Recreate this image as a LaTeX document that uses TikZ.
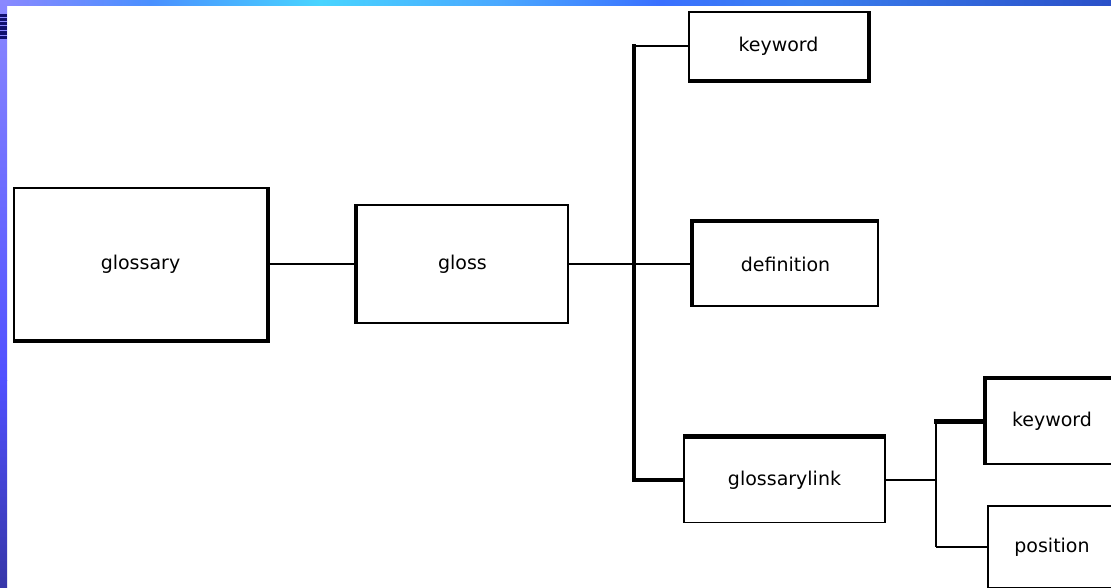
\documentclass[tikz,border=0pt]{standalone}
\usepackage{fontspec}
\setmainfont{DejaVu Sans}
\definecolor{tbA}{HTML}{8A88FF}
\definecolor{tbB}{HTML}{4A90FF}
\definecolor{tbC}{HTML}{48D4FF}
\definecolor{tbD}{HTML}{4AA8FF}
\definecolor{tbE}{HTML}{3A70FF}
\definecolor{tbF}{HTML}{3A80F0}
\definecolor{tbG}{HTML}{2A50C8}
\definecolor{lbA}{HTML}{8A88FF}
\definecolor{lbB}{HTML}{5050FF}
\definecolor{lbC}{HTML}{3636A8}
\definecolor{stripe}{HTML}{10106E}
\begin{document}
\begin{tikzpicture}[x=1pt,y=-1pt,
  box/.style={draw, line width=1.6pt, rectangle, inner sep=0pt, font=\fontsize{19}{23}\selectfont},
  thinline/.style={line width=1.6pt},
  heavyside/.style={line width=4.5pt, line cap=butt, line join=miter},
  heavy/.style={line width=4.5pt, line cap=rect}]
\useasboundingbox (0,0) rectangle (1111,588);
\clip (0,0) rectangle (1111,588);
\fill[white] (0,0) rectangle (1111,588);
% slide frame
\shade[left color=tbA, right color=tbB] (0,0) rectangle (150,6);
\shade[left color=tbB, right color=tbC] (150,0) rectangle (320,6);
\shade[left color=tbC, right color=tbD] (320,0) rectangle (500,6);
\shade[left color=tbD, right color=tbE] (500,0) rectangle (660,6);
\shade[left color=tbE, right color=tbF] (660,0) rectangle (800,6);
\shade[left color=tbF, right color=tbG] (800,0) rectangle (1111,6);
\shade[top color=lbA, bottom color=lbB] (0,0) rectangle (7,380);
\shade[top color=lbB, bottom color=lbC] (0,380) rectangle (7,588);
\fill[stripe] (0,14) rectangle (7,39);
\foreach \yy in {17.8,21.8,25.9,30.4,35.0}
  \draw[lbA, line width=0.9pt] (0,\yy) -- (7,\yy);
% boxes
\node[box, minimum width=253pt, minimum height=152pt] (glossary) at (140.5,264) {glossary};
\node[box, minimum width=211pt, minimum height=118pt] (gloss) at (462.5,264) {gloss};
\node[box, minimum width=179pt, minimum height=68pt] (keyword) at (778.5,46) {keyword};
\node[box, minimum width=185pt, minimum height=84pt] (definition) at (785.5,264) {definition};
\node[box, minimum width=201pt, minimum height=85pt] (glossarylink) at (784.5,480) {glossarylink};
\node[box, minimum width=132pt, minimum height=85pt] (keywordb) at (1052,421.5) {keyword};
\node[box, minimum width=128pt, minimum height=82pt] (position) at (1052,547) {position};
% heavy sides
\draw[heavyside] (glossary.north east) -- (glossary.south east) -- (glossary.south west);
\draw[heavyside] (gloss.north west) -- (gloss.south west);
\draw[heavyside] (keyword.north east) -- (keyword.south east) -- (keyword.south west);
\draw[heavyside] (definition.south west) -- (definition.north west) -- (definition.north east);
\draw[heavyside] (glossarylink.north west) -- (glossarylink.north east);
\draw[heavyside] (keywordb.south west) -- (keywordb.north west) -- (keywordb.north east);
% connectors
\coordinate (busA) at (634,264);
\coordinate (busB) at (936,480);
\draw[thinline] (glossary.east) -- (gloss.west);
\draw[thinline] (gloss.east) -- (busA);
\draw[thinline] (busA) -- (definition.west);
\draw[heavy] (busA |- keyword.west) -- (busA |- glossarylink.west);
\draw[line width=2.2pt] (busA |- keyword.west) -- (keyword.west);
\draw[heavy] (busA |- glossarylink.west) -- (glossarylink.west);
\draw[thinline] (glossarylink.east) -- (busB);
\draw[thinline] (busB |- keywordb.west) -- (busB |- position.west);
\draw[heavy] (busB |- keywordb.west) -- (keywordb.west);
\draw[thinline] (busB |- position.west) -- (position.west);
\end{tikzpicture}
\end{document}
